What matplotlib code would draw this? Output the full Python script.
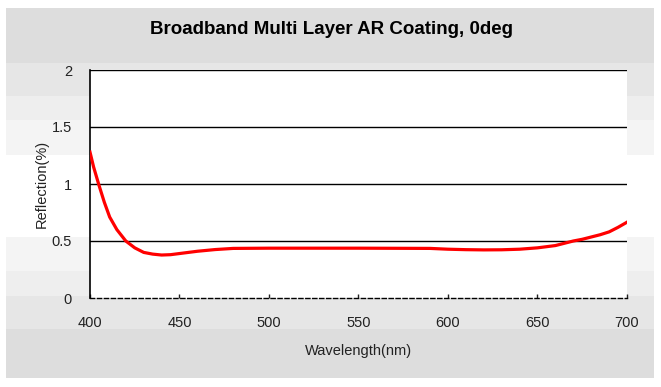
import matplotlib
matplotlib.use("Agg")
import matplotlib.pyplot as plt
from matplotlib.patches import Rectangle

# DATA
wavelength = [400, 402, 405, 408, 411, 415, 420, 425, 430, 435, 440, 445, 450,
              460, 470, 480, 500, 550, 590, 600, 610, 620, 630, 640, 650, 655,
              660, 665, 670, 675, 680, 685, 690, 695, 700]
reflection = [1.28, 1.15, 0.99, 0.84, 0.71, 0.60, 0.50, 0.44, 0.40, 0.385, 0.377,
              0.38, 0.39, 0.41, 0.425, 0.435, 0.437, 0.437, 0.435, 0.428, 0.424,
              0.422, 0.423, 0.428, 0.44, 0.45, 0.46, 0.48, 0.50, 0.515, 0.535,
              0.555, 0.58, 0.62, 0.665]
x_ticks = [400, 450, 500, 550, 600, 650, 700]
y_ticks = [0, 0.5, 1, 1.5, 2]
y_tick_labels = ["0", "0.5", "1", "1.5", "2"]

W, H = 661, 387
plt.rcParams["font.family"] = ["Liberation Sans", "DejaVu Sans"]

fig = plt.figure(figsize=(W / 100, H / 100), dpi=100)
fig.patch.set_facecolor("white")


def px_rect(x0, y0, x1, y1, color):
    # pixel box (top-left origin) -> figure fraction
    r = Rectangle((x0 / W, 1 - y1 / H), (x1 - x0) / W, (y1 - y0) / H,
                  transform=fig.transFigure, facecolor=color,
                  edgecolor="none", zorder=-10)
    fig.patches.append(r)


# BACKGROUND BANDS
bands = [(8, 63, "#dddddd"), (63, 96, "#e6e6e6"), (96, 120, "#eeeeee"),
         (120, 155, "#f4f4f4"), (237, 271, "#f4f4f4"), (271, 296, "#eeeeee"),
         (296, 329, "#e6e6e6"), (329, 378, "#dddddd")]
for y0, y1, c in bands:
    px_rect(6, y0, 654, y1, c)

# PLOT AREA
ax = fig.add_axes([90 / W, 1 - 298 / H, (627 - 90) / W, (298 - 70) / H])
ax.set_zorder(1)
ax.set_facecolor("white")
ax.plot(wavelength, reflection, color="#ff0000", lw=2.3, zorder=3)

ax.set_xlim(400, 700)
ax.set_ylim(0, 2)
ax.set_xticks(x_ticks)
ax.set_yticks(y_ticks)
ax.set_yticklabels(y_tick_labels)

for y in y_ticks[1:]:
    ax.axhline(y, color="black", lw=1, zorder=2)

ax.spines["right"].set_visible(False)
ax.spines["top"].set_visible(False)
ax.spines["left"].set_linewidth(1.2)
ax.spines["bottom"].set_linestyle((0, (3, 2)))
ax.spines["bottom"].set_linewidth(1)

ax.tick_params(axis="x", direction="in", length=3, width=1, pad=13,
               labelsize=10.5, colors="#222222")
ax.tick_params(axis="y", length=0, pad=13, labelsize=10.5, colors="#222222")

ax.set_xlabel("Wavelength(nm)", fontsize=10.5, labelpad=10, color="#222222")
ax.set_ylabel("Reflection(%)", fontsize=10.5, labelpad=2, color="#222222")

fig.text(332 / W, 1 - 30 / H, "Broadband Multi Layer AR Coating, 0deg",
         ha="center", va="center", fontsize=13.5, fontweight="bold")

fig.savefig("out.png", dpi=100, facecolor="white")
